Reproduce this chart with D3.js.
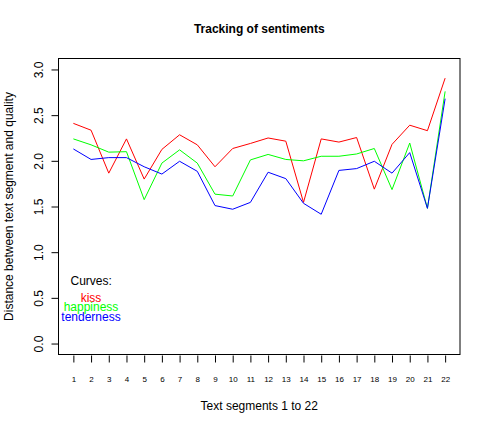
<!DOCTYPE html>
<html>
<head>
<meta charset="utf-8">
<script src="https://cdn.jsdelivr.net/npm/d3@7"></script>
<style>
  html, body { margin: 0; padding: 0; background: #fff; }
  text { font-family: "Liberation Sans", Arial, Helvetica, sans-serif; }
</style>
</head>
<body>
<svg id="chart" width="490" height="428"></svg>
<script>
const segments = d3.range(1, 23);
const kiss = [2.41, 2.335, 1.865, 2.24, 1.80, 2.125, 2.285, 2.175, 1.935, 2.135, 2.19, 2.25, 2.215, 1.545, 2.24, 2.205, 2.255, 1.69, 2.18, 2.39, 2.33, 2.905];
const happiness = [2.24, 2.175, 2.095, 2.10, 1.575, 1.975, 2.12, 1.975, 1.635, 1.615, 2.01, 2.07, 2.015, 2.00, 2.05, 2.05, 2.075, 2.135, 1.685, 2.195, 1.48, 2.76];
const tenderness = [2.13, 2.015, 2.035, 2.035, 1.935, 1.855, 1.995, 1.885, 1.51, 1.47, 1.545, 1.875, 1.805, 1.535, 1.415, 1.895, 1.915, 1.995, 1.865, 2.09, 1.48, 2.68];
const yTicks = [0, 0.5, 1, 1.5, 2, 2.5, 3];
const seriesNames = ["kiss", "happiness", "tenderness"];
const seriesColors = ["#ff0000", "#00ff00", "#0000ff"];
const seriesData = [kiss, happiness, tenderness];

const svg = d3.select("#chart");
const box = {left: 58.5, right: 460, top: 58.5, bottom: 354.5};

// R-style 4% axis extension
const x = d3.scaleLinear().domain([1 - 0.84, 22 + 0.84]).range([box.left, box.right]);
const y = d3.scaleLinear().domain([-0.12, 3.12]).range([box.bottom, box.top]);

// lines
const line = d3.line().x((d, i) => x(segments[i])).y(d => y(d));
seriesData.forEach((s, k) => {
  svg.append("path").datum(s)
    .attr("d", line)
    .attr("fill", "none")
    .attr("stroke", seriesColors[k])
    .attr("stroke-width", 1);
});

// box
svg.append("rect")
  .attr("x", box.left).attr("y", box.top)
  .attr("width", box.right - box.left).attr("height", box.bottom - box.top)
  .attr("fill", "none").attr("stroke", "#000").attr("stroke-width", 1);

// y axis
const yAxis = d3.axisLeft(y).tickValues(yTicks).tickFormat(d3.format(".1f")).tickSize(7).tickPadding(0);
const gy = svg.append("g").attr("transform", `translate(${box.left},0)`).call(yAxis);
gy.select(".domain").remove();
gy.selectAll("line").attr("stroke", "#000");
gy.selectAll("text")
  .attr("x", null).attr("dy", null).attr("y", null)
  .attr("text-anchor", "middle")
  .attr("font-size", 12)
  .attr("fill", "#000")
  .attr("transform", `translate(${42.5 - box.left},0) rotate(-90)`);

// x axis
const xAxis = d3.axisBottom(x).tickValues(segments).tickFormat(d3.format("d")).tickSize(7).tickPadding(0);
const gx = svg.append("g").attr("transform", `translate(0,${box.bottom + 1})`).call(xAxis);
gx.select(".domain").remove();
gx.selectAll("line").attr("stroke", "#000");
gx.selectAll("text")
  .attr("dy", null)
  .attr("y", 381.5 - box.bottom - 1)
  .attr("font-size", 8)
  .attr("fill", "#000");

// titles
svg.append("text")
  .attr("x", (box.left + box.right) / 2).attr("y", 32.5)
  .attr("text-anchor", "middle").attr("font-size", 12).attr("font-weight", "bold")
  .text("Tracking of sentiments");

svg.append("text")
  .attr("x", (box.left + box.right) / 2).attr("y", 409.5)
  .attr("text-anchor", "middle").attr("font-size", 12)
  .text("Text segments 1 to 22");

svg.append("text")
  .attr("transform", `translate(12.5,${(box.top + box.bottom) / 2}) rotate(-90)`)
  .attr("text-anchor", "middle").attr("font-size", 12)
  .text("Distance between text segment and quality");

// legend
svg.append("text")
  .attr("x", 70.5).attr("y", 284.5)
  .attr("font-size", 12).attr("fill", "#000")
  .text("Curves:");
const legendY = [301.5, 311, 320.5];
seriesNames.forEach((n, k) => {
  svg.append("text")
    .attr("x", 91).attr("y", legendY[k])
    .attr("text-anchor", "middle").attr("font-size", 12)
    .attr("fill", seriesColors[k])
    .text(n);
});
</script>
</body>
</html>
